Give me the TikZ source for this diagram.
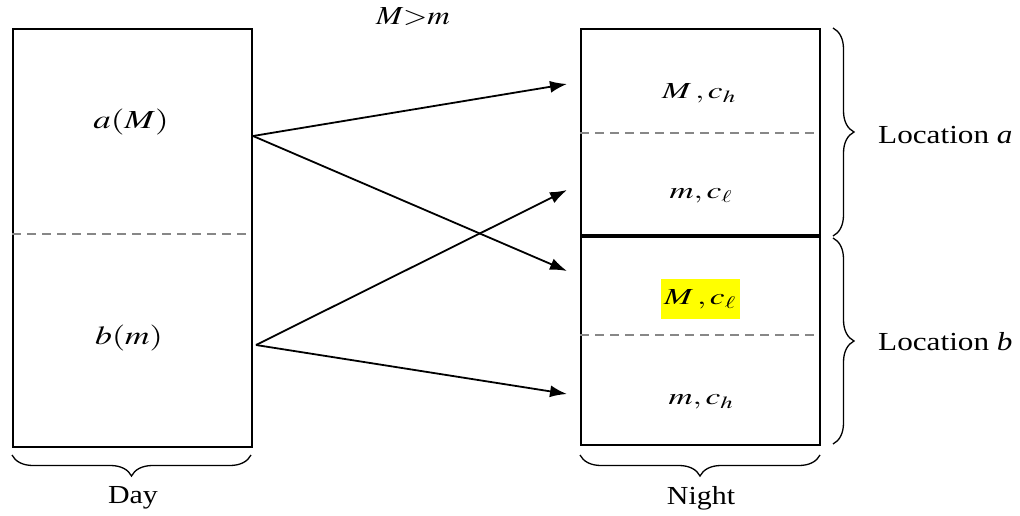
\documentclass[tikz,border=0pt]{standalone}
\usepackage{graphicx}
\usepackage{mathptmx}
\usepackage{fontspec}
\setmainfont{Liberation Serif}
\usetikzlibrary{arrows.meta,decorations.pathreplacing}
\definecolor{dashgray}{RGB}{135,135,135}
\definecolor{hl}{RGB}{255,255,0}
\newcommand{\Wide}[2]{\scalebox{#1}[1]{#2}}
\begin{document}
\begin{tikzpicture}[x=1pt,y=-1pt,
  panel/.style={draw, line width=1.8pt, inner sep=0pt, anchor=north west},
  sep/.style={draw=dashgray, line width=1.8pt, dash pattern=on 9pt off 6pt},
  txt/.style={inner sep=0pt, font=\fontsize{26}{30}\selectfont},
  mth/.style={inner sep=0pt, font=\fontsize{23}{27}\selectfont},
  arr/.style={-{Latex[length=17pt,width=12pt]}, line width=1.8pt},
  brc/.style={decorate, decoration={brace, amplitude=21pt}, line width=1.3pt}]
\useasboundingbox (0,0) rectangle (1020,516);
% boxes
\node[panel, minimum width=239pt, minimum height=418pt] (day) at (12,28) {};
\node[panel, minimum width=239pt, minimum height=416pt] (night) at (580,28) {};
% separators
\draw[sep] (12,234) -- (251,234);
\draw[sep] (580,133) -- (819,133);
\draw[sep] (580,335) -- (819,335);
\draw[line width=3.8pt] (580,236) -- (819,236);
% texts in boxes
\node[txt] (aM) at (131,122) {\Wide{1.35}{$a(M)$}};
\node[txt] (bm) at (129,338) {\Wide{1.3}{$b(m)$}};
\node[mth] (Mch) at (699,93) {\Wide{1.45}{$M\,,c_h$}};
\node[mth] (mcl) at (701,196) {\Wide{1.45}{$m,c_\ell$}};
\node[mth, fill=hl, minimum width=79pt, minimum height=40pt] (Mcl) at (700,299) {\Wide{1.45}{$M\,,c_\ell$}};
\node[mth] (mch) at (701,402) {\Wide{1.45}{$m,c_h$}};
\node[txt, anchor=base] (Mgm) at (413,25) {\Wide{1.2}{$M{>}m$}};
% arrows
\coordinate (aout) at (253,136);
\coordinate (bout) at (256,345);
\coordinate (t1) at (567,84);
\coordinate (t2) at (567,190);
\coordinate (t3) at (567,271);
\coordinate (t4) at (567,394);
\draw[arr] (aout) -- (t1);
\draw[arr] (aout) -- (t3);
\draw[arr] (bout) -- (t2);
\draw[arr] (bout) -- (t4);
% braces
\draw[brc] (251,455) -- (12,455);
\draw[brc] (820,455) -- (580,455);
\draw[brc] (833,28) -- (833,236);
\draw[brc] (833,238) -- (833,444);
% labels
\node[txt, anchor=base] (dayl) at (133,503) {\Wide{1.15}{Day}};
\node[txt, anchor=base] (nightl) at (701,504) {\Wide{1.15}{Night}};
\node[txt, anchor=base west] (loca) at (878,144) {\Wide{1.2}{Location \textit{a}}};
\node[txt, anchor=base west] (locb) at (878,350) {\Wide{1.2}{Location \textit{b}}};
\end{tikzpicture}
\end{document}
